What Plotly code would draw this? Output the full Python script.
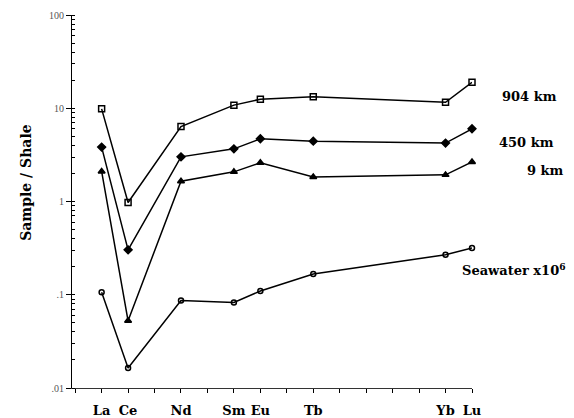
import plotly.graph_objects as go

# REE elements (atomic numbers as x positions)
elements = ["La", "Ce", "Nd", "Sm", "Eu", "Tb", "Yb", "Lu"]
atomic_numbers = [57, 58, 60, 62, 63, 65, 70, 71]

km904 = [9.85, 0.976, 6.37, 10.8, 12.5, 13.25, 11.6, 19.0]
km450 = [3.83, 0.303, 3.01, 3.67, 4.70, 4.44, 4.23, 6.02]
km9 = [2.10, 0.0526, 1.65, 2.08, 2.60, 1.83, 1.93, 2.66]
seawater = [0.1066, 0.0164, 0.0869, 0.0827, 0.1096, 0.1667, 0.2685, 0.3167]

series_names = ["904 km", "450 km", "9 km", "Seawater x10<sup>6</sup>"]

y_tickvals = [0.01, 0.1, 1, 10, 100]
y_ticktext = [".01", ".1", "1", "10", "100"]

serif = "DejaVu Serif"

fig = go.Figure()

styles = [
    dict(symbol="square-open", size=6),
    dict(symbol="diamond", size=6),
    dict(symbol="triangle-up", size=6),
    dict(symbol="circle-open", size=5),
]
for name, vals, st in zip(series_names, [km904, km450, km9, seawater], styles):
    fig.add_trace(go.Scatter(
        x=atomic_numbers, y=vals, mode="lines+markers", name=name,
        line=dict(color="black", width=1.5),
        marker=dict(color="black", line=dict(color="black", width=1.5), **st),
        showlegend=False, cliponaxis=False,
    ))

# Tick labels only at plotted elements, tick marks at every integer
all_ticks = list(range(56, 72))
tick_text = [elements[atomic_numbers.index(t)] if t in atomic_numbers else "" for t in all_ticks]

fig.update_xaxes(
    range=[55.88, 71.0], tickvals=all_ticks, ticktext=tick_text,
    ticks="outside", ticklen=4, tickcolor="black", tickwidth=1,
    showline=True, linecolor="#333", linewidth=1, showgrid=False, zeroline=False,
    tickfont=dict(family=serif, size=13, color="black", weight="bold"),
    ticklabelstandoff=6, automargin=False,
)
fig.update_yaxes(
    type="log", range=[-2, 2], tickvals=y_tickvals, ticktext=y_ticktext,
    ticks="outside", ticklen=5, tickcolor="black", tickwidth=1,
    minor=dict(ticks="inside", ticklen=3, tickcolor="black", dtick="D1", showgrid=False),
    showline=True, linecolor="black", linewidth=1.2, showgrid=False, zeroline=False,
    tickfont=dict(family="Liberation Serif", size=10, color="#555"),
    automargin=False,
)

# y-axis title
fig.add_annotation(
    text="<b>Sample / Shale</b>", xref="paper", yref="paper", x=-0.14, y=0.55,
    textangle=-90, showarrow=False, font=dict(family=serif, size=14, color="black"),
)

# series labels at right
label_pos = [(529, 87), (526, 133), (545, 170), (514, 280)]
for txt, (px, py) in zip(series_names, label_pos):
    fig.add_annotation(
        text="<b>" + txt + "</b>", xref="paper", yref="paper",
        x=(px - 72) / 400, y=(388 - py) / 373,
        showarrow=False, font=dict(family=serif, size=13, color="black"), xanchor="center",
    )

fig.update_layout(
    width=574, height=418,
    margin=dict(l=72, r=102, t=15, b=30),
    paper_bgcolor="white", plot_bgcolor="white",
)

fig.write_html("out.html", config={"displayModeBar": False},
               post_script="document.body.style.margin='0';")
